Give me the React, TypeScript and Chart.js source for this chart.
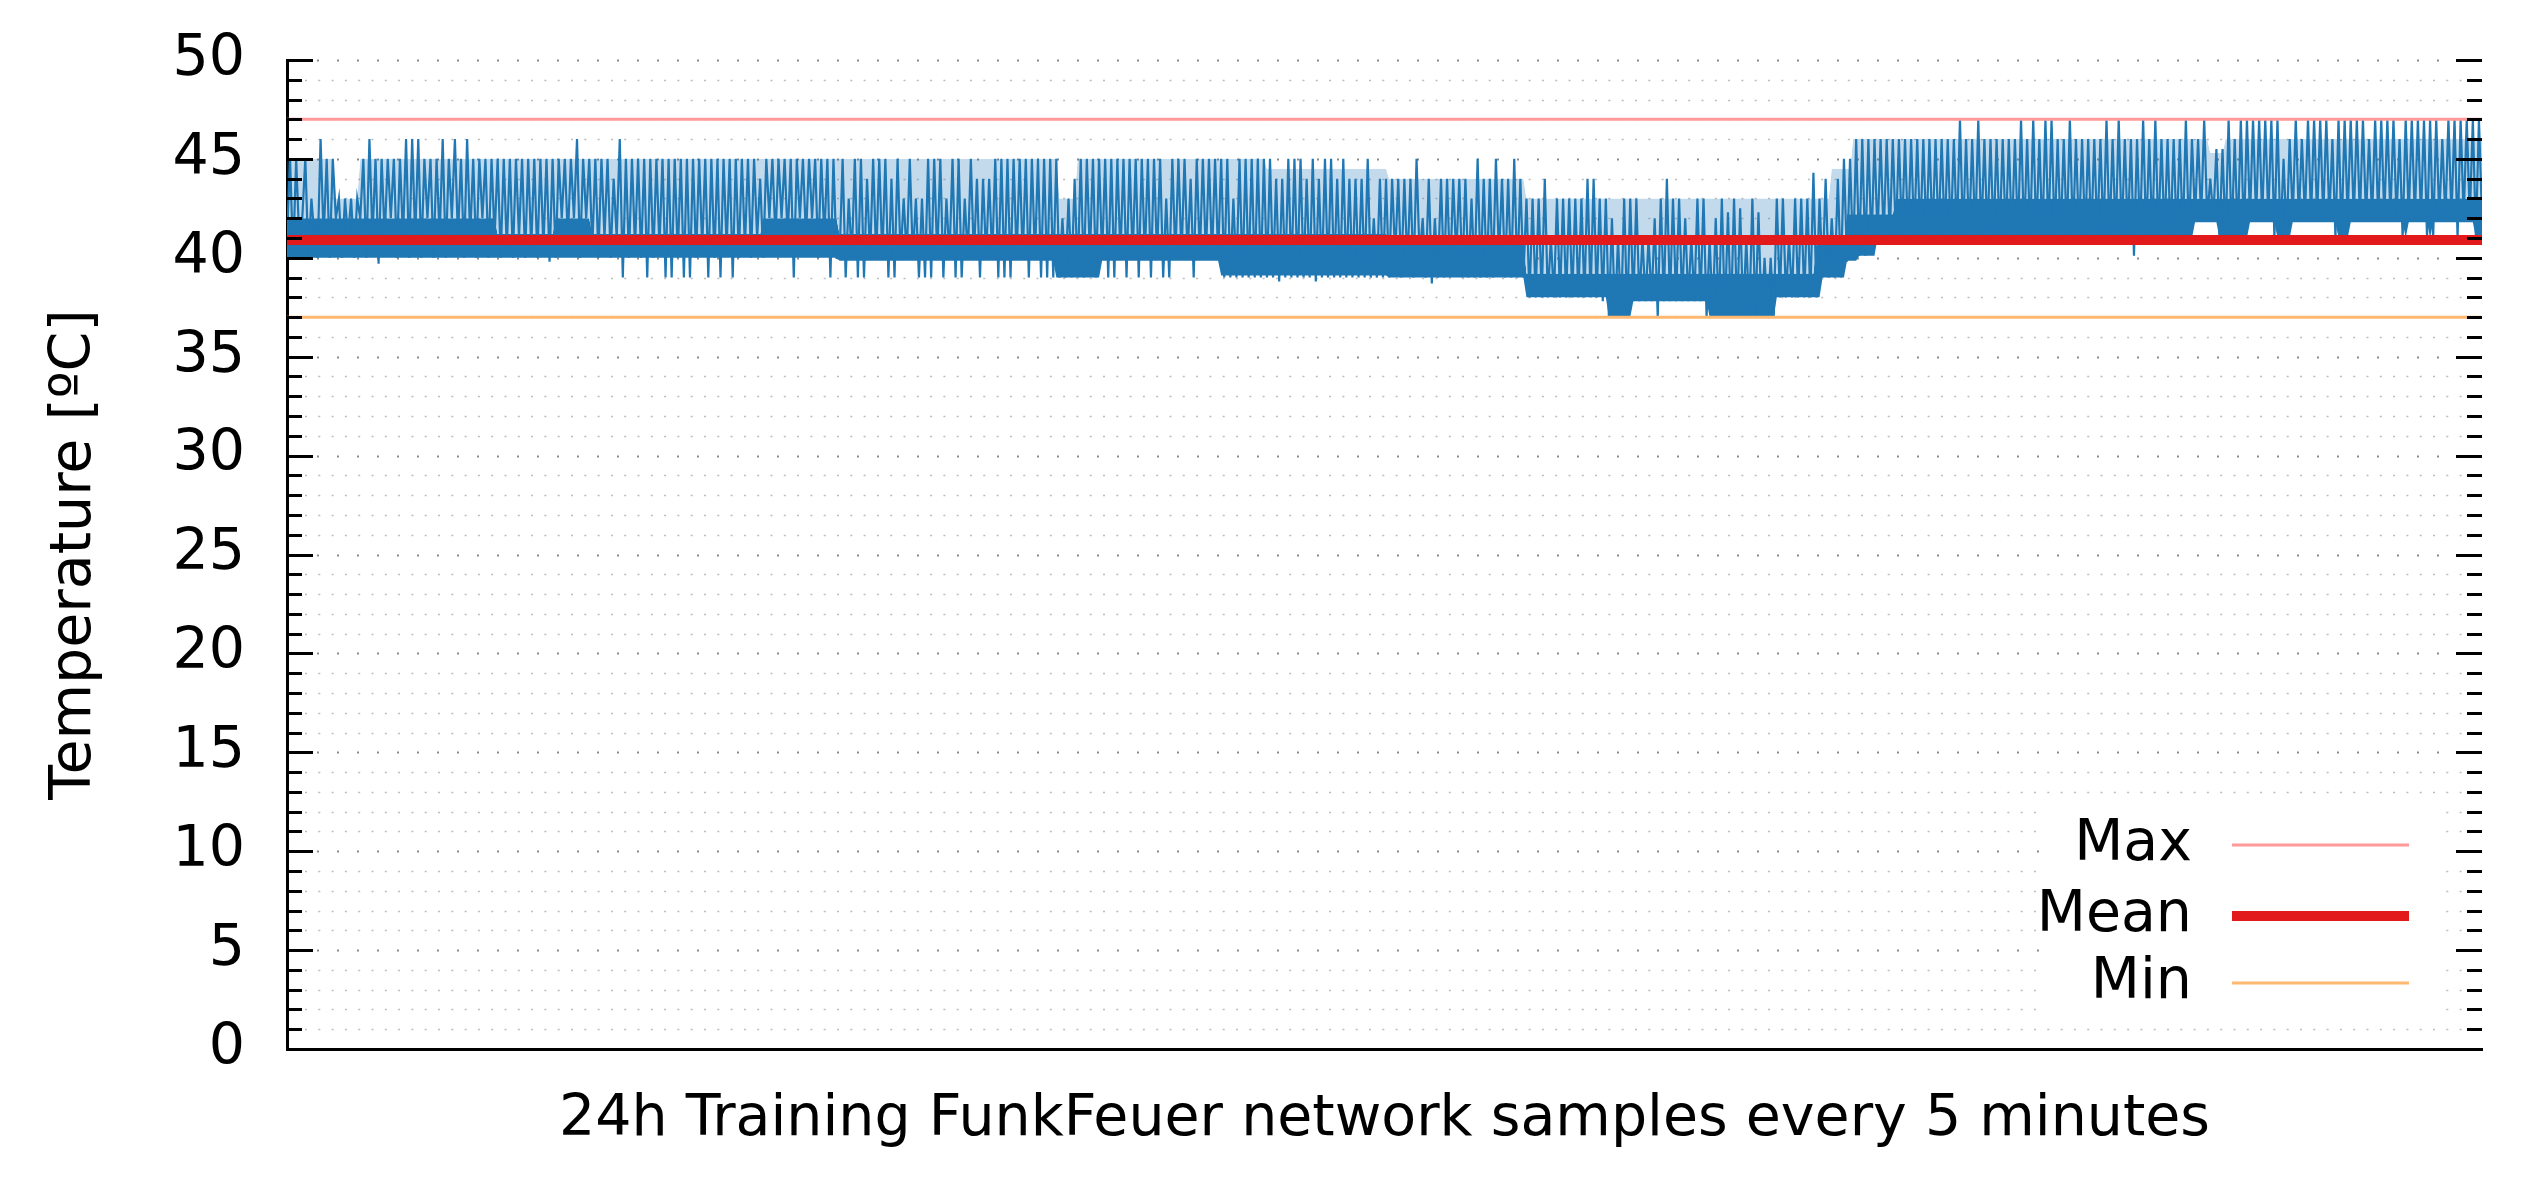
import React, { useEffect, useRef } from 'react';
import { Chart, registerables } from 'chart.js';

Chart.register(...registerables);

// Temperature samples [ºC], left to right (four consecutive stretches)
const samplesA = [
  41, 45, 40, 45, 41, 42, 45, 40, 43, 41,
  40, 46, 41, 45, 40, 45, 42, 43, 40, 43,
  41, 43, 40, 43, 42, 45, 40, 46, 41, 45,
  39.7, 45, 41, 45, 42, 45, 40, 45, 41, 46,
  40, 46, 41, 46, 40, 45, 42, 45, 40, 45,
  41, 46, 40, 45, 42, 46, 41, 45, 40, 46,
  41, 45, 40, 45, 42, 45, 40, 45, 41, 45,
  40, 45, 40.5, 45, 40, 45, 41, 45, 40, 45,
  40.5, 45, 40, 45, 40.5, 45, 39.8, 45, 40, 45,
  42, 45, 41, 45, 42, 46, 40, 45, 42, 45,
  40.5, 45, 40, 45, 41, 45, 40, 44, 41, 46,
  39, 45, 40, 45, 40.5, 45, 40, 45, 39, 45,
  40, 45, 40.5, 45, 39, 45, 39, 45, 40, 45,
  39, 45, 39, 45, 40, 45, 40.5, 45, 39, 45,
  40, 45, 39, 45, 40.5, 45, 39, 45, 40, 45,
  40.5, 45, 40, 45, 41, 44, 40, 45, 42, 45,
  41, 45, 42, 45, 41, 45, 39, 45, 42, 45,
  41, 45, 42, 45, 40, 45, 41, 45, 39, 45, 40,
];

const samplesB = [
  40, 45, 39, 43, 40, 45, 39, 45, 39, 44,
  40, 45, 40, 45, 40, 45, 39, 44, 39, 45,
  40, 43, 40, 45, 40, 43, 39, 43, 39, 45,
  39, 45, 40, 45, 39, 43, 40, 45, 39, 45,
  39, 43, 40, 45, 40, 44, 39, 44, 40, 44,
  40, 45, 39, 45, 39, 45, 39, 45, 40, 45,
  40, 45, 39, 45, 40, 45, 39, 45, 39, 45,
  39, 45, 39, 42, 39, 43, 39, 44, 39, 45,
  39, 45, 40, 45, 39, 45, 40, 45, 39, 45,
  39, 45, 40, 45, 39, 45, 40, 45, 39, 45,
  40, 45, 39, 45, 40, 45, 39, 43, 39, 45,
  40, 45, 40, 45, 40, 44, 39, 45, 40, 45,
  40, 45, 40, 45, 40, 45, 39, 45, 39, 43,
  39, 45, 39, 45, 39, 45, 39, 45, 39, 45,
  39, 45, 39, 44, 38.8, 44, 39, 45, 39, 45,
  39, 45, 39, 44, 39, 45, 38.8, 44, 39, 45,
  39, 45, 39, 44, 39, 45, 39, 44, 39, 44,
  39, 44, 39, 45, 39, 42, 39, 44, 39, 44,
];

const samplesC = [
  39, 44, 40, 44, 39, 44, 39.5, 44, 39, 45,
  40, 42, 39, 44, 38.7, 42, 39, 44, 39, 44,
  39, 44, 40, 44, 39, 44, 39, 43, 39, 45,
  39, 44, 39, 44, 39, 45, 40, 44, 39, 44,
  39, 45, 39, 44, 39, 43, 38, 43, 38, 43,
  38, 44, 38, 41, 38, 43, 38, 43, 38, 43,
  38, 43, 38, 43, 38, 44, 38, 44, 38, 43,
  37.8, 43, 37, 42, 37, 41, 37, 43, 37, 43,
  37.8, 43, 37.8, 41, 37.8, 41, 37.8, 42, 37, 43,
  37.8, 44, 37.8, 43, 37.8, 43, 37.8, 42, 37.8, 41,
  37.8, 43, 37.8, 43, 37, 41, 37, 42, 37, 43,
  37, 42.3, 37, 43, 37, 42.5, 37, 41, 37, 43,
  37, 42.3, 37, 40, 37, 40, 37, 43, 38, 43,
  38, 41, 38, 43, 38, 43, 38, 43, 38, 44.3,
  38, 43, 39, 44, 39, 42, 39, 44, 39, 45,
  39.8, 45, 40, 46, 40.1, 46, 40.1, 46, 40.5, 46,
  41, 46, 41, 46, 41, 46, 41, 46, 41, 46,
  41, 46, 41, 46, 41, 46, 41, 46, 41, 46,
];

const samplesD = [
  41, 46, 41, 46, 41, 46, 41, 47, 41, 46,
  41, 46, 41, 47, 41, 46, 41, 46, 41, 46,
  41, 46, 41, 46, 41, 46, 41, 47, 41, 46,
  41, 47, 41, 46, 41, 47, 41, 47, 41, 46,
  41, 46, 41, 47, 41, 46, 41, 46, 41, 46,
  41, 46, 41, 46, 41, 47, 41, 46, 41, 47,
  41, 46, 41, 46, 40.1, 46, 41, 47, 41, 46,
  41, 47, 41, 46, 41, 46, 41, 46, 41, 46,
  41, 47, 41, 46, 42, 46, 42, 47, 42, 44,
  42, 45.5, 41, 45.5, 41, 47, 41, 46, 41, 47,
  41, 47, 42, 47, 42, 47, 42, 47, 42, 47,
  41, 47, 41, 45, 41, 46, 42, 47, 42, 46,
  42, 47, 42, 47, 42, 47, 42, 47, 42, 46,
  41, 47, 41, 47, 42, 47, 42, 47, 42, 47,
  42, 46, 42, 47, 42, 47, 42, 47, 42, 47,
  42, 46, 41, 47, 42, 47, 42, 47, 42, 47,
  41, 47, 41, 47, 42, 46, 42, 47, 42, 47,
  41, 47, 42, 47, 42, 47, 41, 47, 42,
];

// Where the overplotted trace is solid: lower edge of the solid band, by sample index [ºC]
const solidBottomIndex = [
  0, 180, 181, 251, 252, 266, 267, 305, 306, 360,
  361, 405, 406, 432, 433, 440, 441, 465, 466, 487, 488, 502, 503, 510, 511, 514, 515, 520, 521,
  624, 625, 632, 633, 642, 643, 651, 652, 656, 657, 671, 672, 675, 676, 693, 694, 695, 701, 702, 703, 716, 717, 719,
];
const solidBottomValue = [
  40, 40, 39.85, 39.85, 39, 39, 39.85, 39.85, 39.1, 39.1,
  39, 39, 38, 38, 37, 37, 37.8, 37.8, 37, 37, 38, 38, 39, 39, 39.85, 39.85, 40.1, 40.1, 41,
  41, 41.8, 41.8, 41, 41, 41.8, 41.8, 41, 41, 41.8, 41.8, 41, 41, 41.8, 41.8, 41, 41.8, 41.8, 41, 41.8, 41.8, 41, 41,
];

// Upper edge of the solid band, by sample index [ºC]
const solidTopIndex = [0, 68, 69, 87, 88, 99, 100, 155, 156, 180, 181, 360, 361, 405, 406, 500, 501, 510, 511, 526, 527, 719];
const solidTopValue = [42, 42, 41.2, 41.2, 42, 42, 41.2, 41.2, 42, 42, 41.2, 41.2, 41.1, 41.1, 39.2, 39.2, 40.8, 40.8, 42.2, 42.2, 43, 43];

// Upper edge of the pale (densely overdrawn) part of the trace, by sample index [ºC]
const denseTopIndex = [0, 15, 16, 23, 24, 252, 253, 258, 259, 320, 321, 360, 361, 405, 406, 505, 506, 512, 513, 629, 630, 634, 635, 719];
const denseTopValue = [45, 45, 43, 43, 45, 45, 43, 43, 45, 45, 44.5, 44.5, 44, 44, 43, 43, 44.5, 44.5, 46, 46, 45.3, 45.3, 46, 46];

const MAX_TEMP = 47;
const MEAN_TEMP = 40.9;
const MIN_TEMP = 37;

const Y_TICKS = [0, 5, 10, 15, 20, 25, 30, 35, 40, 45, 50];
const LEGEND_LABELS = ['Max', 'Mean', 'Min'];
const X_TITLE = '24h Training FunkFeuer network samples every 5 minutes';
const Y_TITLE = 'Temperature [ºC]';

const FONT = '"DejaVu Sans", "Liberation Sans", sans-serif';
const FONT_SIZE = 57;
const BLUE = '#1f77b4';
const PALE_BLUE = 'rgba(31,119,180,0.27)';
const NONE = 'rgba(0,0,0,0)';

const gnuplotGrid = {
  id: 'gnuplotGrid',
  beforeDatasetsDraw(chart: any) {
    const { ctx, chartArea: a, scales } = chart;
    const y = scales.y;
    const lo = Y_TICKS[0];
    const hi = Y_TICKS[Y_TICKS.length - 1];
    ctx.save();
    for (let v = lo + 1; v <= hi; v++) {
      const major = v % 5 === 0;
      const py = Math.round(y.getPixelForValue(v)) + 0.5;
      ctx.strokeStyle = major ? '#8a8a8a' : '#bdbdbd';
      ctx.lineWidth = major ? 2 : 1.5;
      ctx.setLineDash(major ? [2, 18] : [2, 11.3]);
      ctx.beginPath();
      ctx.moveTo(a.left + (major ? 30 : 18), py);
      ctx.lineTo(a.right - (major ? 30 : 18), py);
      ctx.stroke();
    }
    ctx.restore();
  },
  afterDatasetsDraw(chart: any) {
    const { ctx, chartArea: a, scales } = chart;
    const y = scales.y;
    const lo = Y_TICKS[0];
    const hi = Y_TICKS[Y_TICKS.length - 1];
    ctx.save();
    ctx.setLineDash([]);
    ctx.strokeStyle = '#000';
    ctx.lineWidth = 3;
    for (let v = lo; v <= hi; v++) {
      const major = v % 5 === 0;
      const len = major ? 26 : 15;
      const py = Math.round(y.getPixelForValue(v)) + 0.5;
      ctx.beginPath();
      ctx.moveTo(a.left, py);
      ctx.lineTo(a.left + len, py);
      ctx.moveTo(a.right - len, py);
      ctx.lineTo(a.right, py);
      ctx.stroke();
    }
    // key (opaque box)
    ctx.fillStyle = '#ffffff';
    ctx.fillRect(a.right - 438, a.bottom - 249, 400, 220);
    ctx.font = `${FONT_SIZE}px ${FONT}`;
    ctx.textAlign = 'right';
    ctx.textBaseline = 'middle';
    const rows = [-204, -133, -66];
    LEGEND_LABELS.forEach((label, i) => {
      const ds = chart.data.datasets.find((d: any) => d.label === label);
      if (!ds) return;
      const yy = a.bottom + rows[i];
      ctx.fillStyle = '#000';
      ctx.fillText(label, a.right - 290, yy);
      ctx.strokeStyle = ds.borderColor;
      ctx.lineWidth = ds.borderWidth;
      ctx.beginPath();
      ctx.moveTo(a.right - 250, yy);
      ctx.lineTo(a.right - 73, yy);
      ctx.stroke();
    });
    ctx.restore();
  },
};

export default function App() {
  const ref = useRef<HTMLCanvasElement>(null);

  useEffect(() => {
    document.body.style.margin = '0';
    if (!ref.current) return;
    const temps = [...samplesA, ...samplesB, ...samplesC, ...samplesD];
    const last = temps.length - 1;
    const series = temps.map((v, i) => ({ x: i, y: v }));
    const toPoints = (xs: number[], ys: number[]) => xs.map((x, i) => ({ x, y: ys[i] }));
    const flat = (v: number) => [
      { x: 0, y: v },
      { x: last, y: v },
    ];
    const envelope = (label: string, data: any[], order: number, fill: any) => ({
      label,
      data,
      borderColor: NONE,
      borderWidth: 1,
      pointRadius: 0,
      tension: 0,
      order,
      fill,
    });

    const chart = new Chart(ref.current, {
      type: 'line',
      data: {
        datasets: [
          {
            label: 'Temperature',
            data: series,
            borderColor: BLUE,
            borderWidth: 2.2,
            pointRadius: 0,
            tension: 0,
            order: 10,
            fill: false,
          },
          envelope('solidTop', toPoints(solidTopIndex, solidTopValue), 11, { target: 2, above: NONE, below: PALE_BLUE }),
          envelope('denseTop', toPoints(denseTopIndex, denseTopValue), 12, false),
          envelope('solidBottom', toPoints(solidBottomIndex, solidBottomValue), 13, { target: 1, above: NONE, below: BLUE }),
          { label: 'Max', data: flat(MAX_TEMP), borderColor: '#ff9a9a', borderWidth: 3, pointRadius: 0, fill: false, order: 0 },
          { label: 'Mean', data: flat(MEAN_TEMP), borderColor: '#e31a1c', borderWidth: 10, pointRadius: 0, fill: false, order: 1 },
          { label: 'Min', data: flat(MIN_TEMP), borderColor: '#ffb870', borderWidth: 3, pointRadius: 0, fill: false, order: 2 },
        ],
      },
      options: {
        responsive: false,
        animation: false,
        devicePixelRatio: 1,
        layout: { padding: { top: 60, right: 44, bottom: 0, left: 0 } },
        plugins: { legend: { display: false }, tooltip: { enabled: false } },
        scales: {
          x: {
            type: 'linear',
            min: 0,
            max: last,
            ticks: { display: false },
            grid: { display: false, drawTicks: false },
            border: { display: true, color: '#000', width: 3 },
            title: {
              display: true,
              text: X_TITLE,
              color: '#000',
              font: { family: FONT, size: FONT_SIZE },
              padding: { top: 0, bottom: 32 },
            },
            afterFit: (s: any) => {
              s.height = 137;
              s.paddingLeft = 0;
              s.paddingRight = 0;
            },
          },
          y: {
            min: Y_TICKS[0],
            max: Y_TICKS[Y_TICKS.length - 1],
            afterBuildTicks: (s: any) => {
              s.ticks = Y_TICKS.map((v) => ({ value: v }));
            },
            ticks: { color: '#000', font: { family: FONT, size: FONT_SIZE }, padding: 42 },
            grid: { display: false, drawTicks: false },
            border: { display: true, color: '#000', width: 3 },
            title: {
              display: true,
              text: Y_TITLE,
              color: '#000',
              font: { family: FONT, size: FONT_SIZE },
              padding: { top: 41, bottom: 0 },
            },
            afterFit: (s: any) => {
              s.width = 287;
              s.paddingTop = 0;
              s.paddingBottom = 0;
            },
          },
        },
      },
      plugins: [gnuplotGrid],
    } as any);

    return () => chart.destroy();
  }, []);

  return (
    <div style={{ width: 2526, height: 1186, background: '#fff' }}>
      <canvas ref={ref} width={2526} height={1186} style={{ display: 'block' }} />
    </div>
  );
}
